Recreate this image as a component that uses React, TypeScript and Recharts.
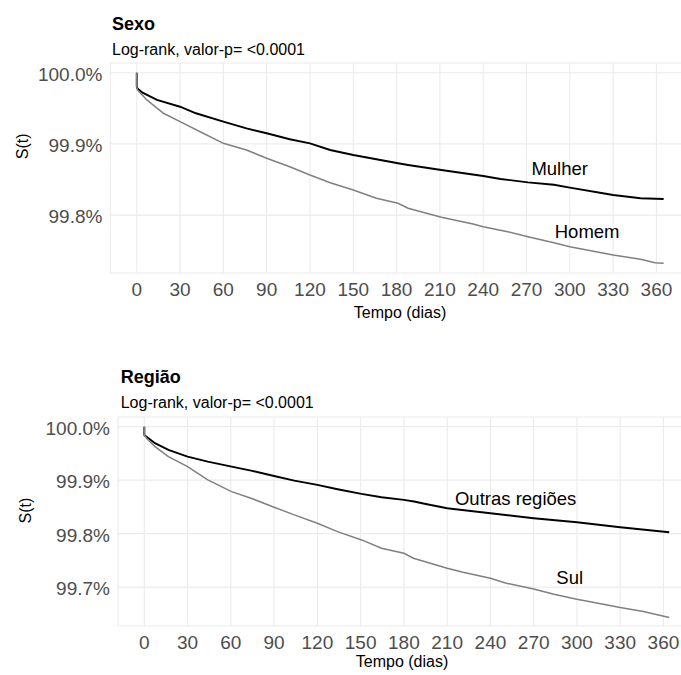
import React from 'react';
import { LineChart, Line, XAxis, YAxis, CartesianGrid, ReferenceDot } from 'recharts';

const FONT = "'Liberation Sans', Arial, Helvetica, sans-serif";

// X axis ticks (days)
const diasTicks = [0, 30, 60, 90, 120, 150, 180, 210, 240, 270, 300, 330, 360];
const diasDomain = [-18.25, 383.25];

// ---- Sexo ----
const sexoYTicks = [99.8, 99.9, 100.0];
const sexoYDomain = [99.7187, 100.0136];

const mulherDias = [0, 0, 0.5, 4, 14, 30, 41, 60, 76, 90, 106, 120, 134, 150, 166, 181, 188, 211, 240, 252, 271, 289, 300, 326, 330, 349, 365];
const mulherSobrevida = [100, 99.981, 99.978, 99.9719, 99.9617, 99.9522, 99.943, 99.9312, 99.9219, 99.9149, 99.9065, 99.9008, 99.8914, 99.8844, 99.8784, 99.8728, 99.8704, 99.8633, 99.8549, 99.8507, 99.846, 99.8427, 99.8385, 99.8296, 99.8282, 99.8236, 99.8226];

const homemDias = [0, 0, 0.5, 7, 18.5, 30, 46, 60, 76, 90, 106, 120, 134, 150, 166, 181, 188, 211, 233, 240, 257, 271, 289, 300, 330, 349, 359, 365];
const homemSobrevida = [100, 99.981, 99.9757, 99.9617, 99.943, 99.9312, 99.9149, 99.9008, 99.8914, 99.8798, 99.868, 99.8563, 99.8455, 99.8353, 99.8236, 99.8166, 99.8096, 99.797, 99.7875, 99.7837, 99.7767, 99.7697, 99.7612, 99.7556, 99.744, 99.7379, 99.7332, 99.7323];

// ---- Região ----
const regiaoYTicks = [99.7, 99.8, 99.9, 100.0];
const regiaoYDomain = [99.6273, 100.018];

const outrasDias = [0, 0, 7.4, 16.7, 30, 44, 60.5, 74, 90, 104, 120, 134, 150.6, 164.5, 180, 187, 196, 210, 240, 270, 300, 330, 364];
const outrasSobrevida = [100, 99.9845, 99.969, 99.9565, 99.944, 99.9346, 99.9252, 99.9178, 99.9078, 99.8991, 99.891, 99.883, 99.8742, 99.868, 99.863, 99.86, 99.855, 99.8475, 99.8381, 99.8288, 99.8213, 99.812, 99.8026];

const sulDias = [0, 0, 2, 7.4, 16.7, 30, 44, 60.5, 74, 90, 104, 120, 134, 150.6, 164.5, 180, 186.6, 210, 221, 240, 251, 270, 284, 300, 321, 330, 346, 364];
const sulSobrevida = [100, 99.9845, 99.977, 99.9626, 99.944, 99.9252, 99.9004, 99.8785, 99.8662, 99.8493, 99.835, 99.8194, 99.8037, 99.7882, 99.7727, 99.7633, 99.754, 99.7353, 99.7278, 99.7166, 99.7073, 99.6966, 99.6867, 99.6774, 99.6667, 99.6617, 99.6542, 99.643];

// Curve labels (text, day, survival)
const sexoRotulos = [
  { texto: 'Mulher', t: 293, s: 99.8657 },
  { texto: 'Homem', t: 312, s: 99.7767 },
];
const regiaoRotulos = [
  { texto: 'Outras regiões', t: 257.5, s: 99.8662 },
  { texto: 'Sul', t: 295, s: 99.7178 },
];

const toSeries = (dias: number[], s: number[]) => dias.map((t, i) => ({ t, s: s[i] }));

const XTick = (props: any) => {
  const { x, y, payload } = props;
  return (
    <text x={x} y={y + 23} textAnchor="middle" fill="#4D4D4D" fontSize={19} fontFamily={FONT}>
      {payload.value}
    </text>
  );
};

const YTick = (props: any) => {
  const { x, y, payload } = props;
  return (
    <text x={x - 8} y={y + 8.3} textAnchor="end" fill="#4D4D4D" fontSize={19} fontFamily={FONT}>
      {Number(payload.value).toFixed(1)}%
    </text>
  );
};

type PanelProps = {
  top: number;
  width: number;
  height: number;
  marginTop: number;
  xAxisHeight: number;
  yAxisWidth: number;
  yDomain: number[];
  yTicks: number[];
  escura: { t: number; s: number }[];
  clara: { t: number; s: number }[];
  rotulos: { texto: string; t: number; s: number }[];
};

function Panel(p: PanelProps) {
  return (
    <div style={{ position: 'absolute', left: 0, top: p.top }}>
      <LineChart width={p.width} height={p.height} margin={{ top: p.marginTop, right: 0, bottom: 0, left: 0 }}>
        <CartesianGrid stroke="#EBEBEB" strokeWidth={1.1} />
        <XAxis
          type="number"
          dataKey="t"
          domain={diasDomain}
          ticks={diasTicks}
          allowDataOverflow
          axisLine={false}
          tickLine={false}
          tickSize={0}
          tickMargin={0}
          height={p.xAxisHeight}
          tick={<XTick />}
          interval={0}
        />
        <YAxis
          type="number"
          domain={p.yDomain}
          ticks={p.yTicks}
          allowDataOverflow
          axisLine={false}
          tickLine={false}
          tickSize={0}
          tickMargin={0}
          width={p.yAxisWidth}
          tick={<YTick />}
          interval={0}
        />
        <Line data={p.escura} dataKey="s" type="linear" stroke="#000000" strokeWidth={1.9} dot={false} isAnimationActive={false} />
        <Line data={p.clara} dataKey="s" type="linear" stroke="#808080" strokeWidth={1.5} dot={false} isAnimationActive={false} />
        {p.rotulos.map((r) => (
          <ReferenceDot
            key={r.texto}
            x={r.t}
            y={r.s}
            r={0}
            ifOverflow="visible"
            shape={(sp: any) => (
              <text x={sp.cx} y={sp.cy + 6.5} textAnchor="middle" fill="#000000" fontSize={18.5} fontFamily={FONT}>
                {r.texto}
              </text>
            )}
          />
        ))}
      </LineChart>
    </div>
  );
}

export default function App() {
  return (
    <div style={{ position: 'absolute', left: 0, top: 0, width: 681, height: 675, overflow: 'hidden', background: '#ffffff' }}>
      <Panel
        top={0}
        width={690}
        height={330}
        marginTop={63}
        xAxisHeight={57}
        yAxisWidth={110.4}
        yDomain={sexoYDomain}
        yTicks={sexoYTicks}
        escura={toSeries(mulherDias, mulherSobrevida)}
        clara={toSeries(homemDias, homemSobrevida)}
        rotulos={sexoRotulos}
      />
      <Panel
        top={360}
        width={697}
        height={315}
        marginTop={57}
        xAxisHeight={49}
        yAxisWidth={118}
        yDomain={regiaoYDomain}
        yTicks={regiaoYTicks}
        escura={toSeries(outrasDias, outrasSobrevida)}
        clara={toSeries(sulDias, sulSobrevida)}
        rotulos={regiaoRotulos}
      />
      <svg width={681} height={675} style={{ position: 'absolute', left: 0, top: 0, pointerEvents: 'none' }}>
        <g fontFamily={FONT} fill="#000000">
          <text x={112} y={29.5} fontSize={18} fontWeight="bold">Sexo</text>
          <text x={112} y={54.8} fontSize={16}>Log-rank, valor-p= &lt;0.0001</text>
          <text x={400} y={318} fontSize={16} textAnchor="middle">Tempo (dias)</text>
          <text x={0} y={0} fontSize={16} textAnchor="middle" transform="translate(28.3 146.3) rotate(-90)">S(t)</text>

          <text x={120.7} y={383} fontSize={18} fontWeight="bold">Região</text>
          <text x={120.7} y={408.2} fontSize={16}>Log-rank, valor-p= &lt;0.0001</text>
          <text x={402} y={666.5} fontSize={16} textAnchor="middle">Tempo (dias)</text>
          <text x={0} y={0} fontSize={16} textAnchor="middle" transform="translate(30.8 510.5) rotate(-90)">S(t)</text>
        </g>
      </svg>
    </div>
  );
}
